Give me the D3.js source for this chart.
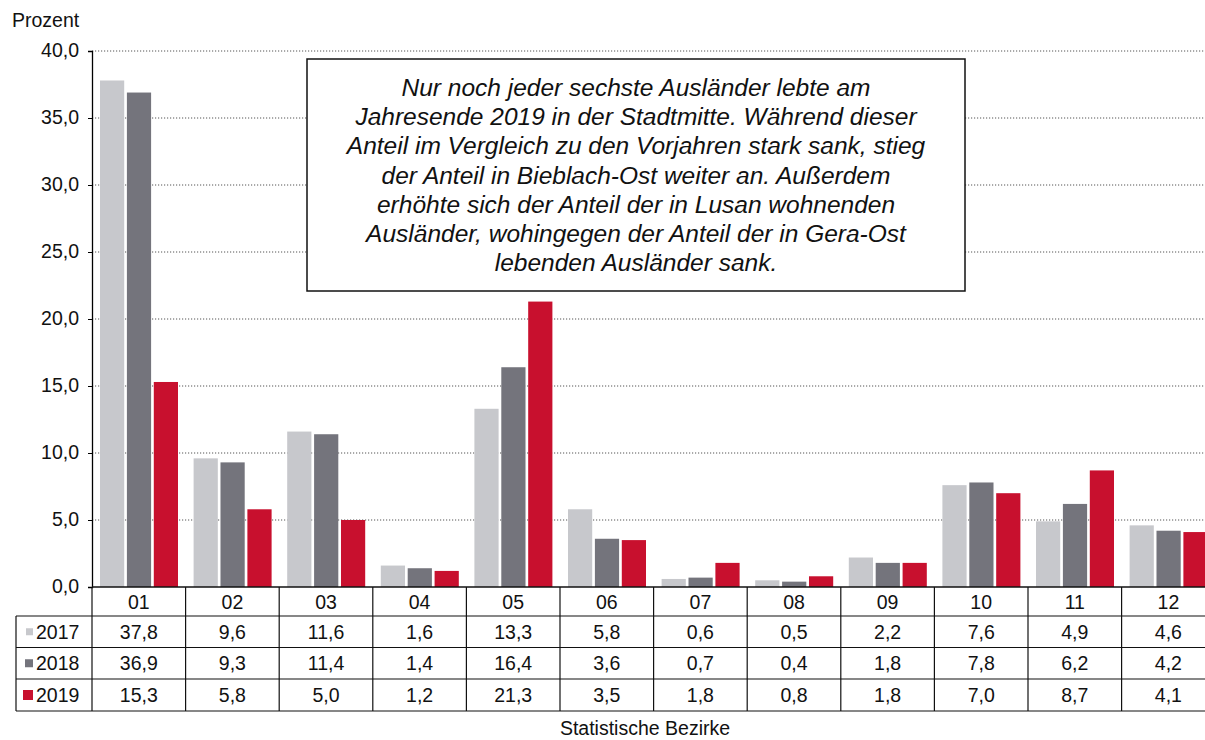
<!DOCTYPE html>
<html><head><meta charset="utf-8">
<script src="https://cdn.jsdelivr.net/npm/d3@7/dist/d3.min.js"></script>
<style>body{margin:0;background:#fff}svg{display:block}</style>
</head><body>
<script>
const categories = ["01","02","03","04","05","06","07","08","09","10","11","12"];
const years = ["2017","2018","2019"];
const values2017 = [37.8,9.6,11.6,1.6,13.3,5.8,0.6,0.5,2.2,7.6,4.9,4.6];
const values2018 = [36.9,9.3,11.4,1.4,16.4,3.6,0.7,0.4,1.8,7.8,6.2,4.2];
const values2019 = [15.3,5.8,5.0,1.2,21.3,3.5,1.8,0.8,1.8,7.0,8.7,4.1];
const yTicks = [0,5,10,15,20,25,30,35,40];
const annotationLines = [
  "Nur noch jeder sechste Ausländer lebte am",
  "Jahresende 2019 in der Stadtmitte. Während dieser",
  "Anteil im Vergleich zu den Vorjahren stark sank, stieg",
  "der Anteil in Bieblach-Ost weiter an. Außerdem",
  "erhöhte sich der Anteil der in Lusan wohnenden",
  "Ausländer, wohingegen der Anteil der in Gera-Ost",
  "lebenden Ausländer sank."
];
const series = [values2017, values2018, values2019];
const colors = ["#c7c8cc", "#74747c", "#c8102e"];
const fmt = v => v.toFixed(1).replace(".", ",");
const FONT = "Liberation Sans, Arial, sans-serif";
const FS = 19.5;

const W = 1205, H = 740;
const svg = d3.select("body").append("svg").attr("width", W).attr("height", H)
  .attr("font-family", FONT).attr("fill", "#111");

const x0 = 92, step = 93.6;
const x = d3.scaleBand().domain(categories).range([x0, x0 + step * categories.length]).padding(0);
const xs = d3.scaleBand().domain(years).range([8, 86]).paddingInner(0.1);
const y = d3.scaleLinear().domain([0, 40]).range([587, 51]);

// gridlines
svg.append("g").selectAll("line").data(yTicks.filter(t => t > 0)).join("line")
  .attr("x1", x0).attr("x2", W).attr("y1", d => y(d)).attr("y2", d => y(d))
  .attr("stroke", "#555").attr("stroke-width", 1).attr("stroke-dasharray", "1.2,1.8");

// bars
const gBars = svg.append("g");
categories.forEach((c, i) => {
  years.forEach((yr, k) => {
    const v = series[k][i];
    gBars.append("rect")
      .attr("x", x(c) + xs(yr)).attr("width", xs.bandwidth())
      .attr("y", y(v)).attr("height", y(0) - y(v))
      .attr("fill", colors[k]);
  });
});

// y axis
const yAxis = d3.axisLeft(y).tickValues(yTicks).tickFormat(fmt).tickSize(4).tickPadding(9);
const ga = svg.append("g").attr("transform", `translate(${x0},0)`).call(yAxis)
  .attr("font-family", FONT).attr("font-size", FS);
ga.select(".domain").attr("stroke", "#000").attr("stroke-width", 1.3);
ga.selectAll(".tick line").attr("stroke", "#000");
ga.selectAll(".tick text").attr("fill", "#111").attr("dy", "0.3em");

svg.append("text").attr("x", 12).attr("y", 27).attr("font-size", FS).text("Prozent");

// annotation box
const bx = 307, by = 59, bw = 658, bh = 232;
svg.append("rect").attr("x", bx).attr("y", by).attr("width", bw).attr("height", bh)
  .attr("fill", "#fff").attr("stroke", "#111").attr("stroke-width", 1.5);
svg.append("g").selectAll("text").data(annotationLines).join("text")
  .attr("x", bx + bw / 2).attr("y", (d, i) => 96 + i * 29.2)
  .attr("text-anchor", "middle").attr("font-size", 24.5).attr("font-style", "italic")
  .text(d => d);

// table
const tTop = 587, rowH = [29, 31.5, 31.5, 32];
const rowY = [tTop];
rowH.forEach((h, i) => rowY.push(rowY[i] + h));
const xEnd = x0 + step * categories.length;
const gt = svg.append("g").attr("stroke", "#111").attr("stroke-width", 1.2);
gt.append("line").attr("x1", x0).attr("x2", W).attr("y1", tTop).attr("y2", tTop).attr("stroke-width", 1.5);
for (let r = 1; r < rowY.length; r++) {
  gt.append("line").attr("x1", 16).attr("x2", W).attr("y1", rowY[r]).attr("y2", rowY[r]);
}
categories.forEach((c, i) => {
  gt.append("line").attr("x1", x(c)).attr("x2", x(c)).attr("y1", tTop).attr("y2", rowY[4]);
});
gt.append("line").attr("x1", xEnd).attr("x2", xEnd).attr("y1", tTop).attr("y2", rowY[4]);
gt.append("line").attr("x1", 16).attr("x2", 16).attr("y1", rowY[1]).attr("y2", rowY[4]);

svg.append("g").selectAll("text").data(categories).join("text")
  .attr("x", d => x(d) + step / 2).attr("y", (rowY[0] + rowY[1]) / 2 + 7)
  .attr("text-anchor", "middle").attr("font-size", FS).text(d => d);

series.forEach((vals, k) => {
  const cy = (rowY[k + 1] + rowY[k + 2]) / 2 + 7;
  svg.append("g").selectAll("text").data(vals).join("text")
    .attr("x", (d, i) => x(categories[i]) + step / 2).attr("y", cy)
    .attr("text-anchor", "middle").attr("font-size", FS).text(d => fmt(d));
  const sz = [7, 8, 10][k];
  svg.append("rect").attr("x", 33 - sz).attr("y", cy - 7 - sz / 2).attr("width", sz).attr("height", sz).attr("fill", colors[k]);
  svg.append("text").attr("x", 36).attr("y", cy).attr("font-size", FS).text(years[k]);
});

svg.append("text").attr("x", 645).attr("y", 735).attr("text-anchor", "middle").attr("font-size", FS).text("Statistische Bezirke");
</script>
</body></html>
